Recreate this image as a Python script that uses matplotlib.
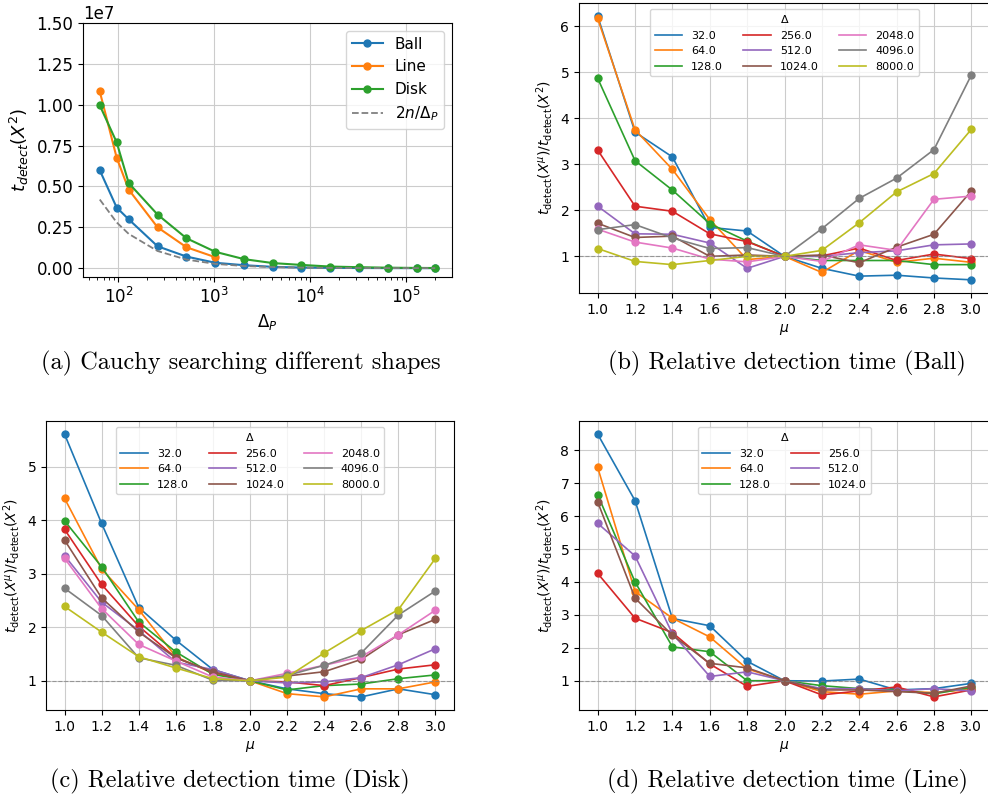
import numpy as np
import matplotlib
matplotlib.use('Agg')
import matplotlib.pyplot as plt

# panel (a): detection time vs Delta_P
delta_p = [64, 96, 128, 256, 512, 1024, 2048, 4096, 8000, 16000, 32000, 64000, 128000, 200000]
ball = [5.99e6, 3.71e6, 2.99e6, 1.34e6, 7.1e5, 3.3e5, 1.8e5, 8e4, 4e4, 2e4, 1e4, 5e3, 3e3, 2e3]
line_t = [1.081e7, 6.76e6, 4.81e6, 2.50e6, 1.28e6, 6.7e5]
disk = [9.96e6, 7.70e6, 5.21e6, 3.28e6, 1.83e6, 1.00e6, 5.5e5, 3.1e5, 2.0e5, 1.0e5, 6e4, 3e4, 1.5e4, 1e4]
two_n_over = [4.2e6, 2.8e6, 2.1e6, 1.05e6, 5.25e5, 2.62e5, 1.31e5, 6.6e4, 3.4e4, 1.7e4, 8.4e3, 4.2e3, 2.1e3, 1.3e3]

mu = [1.0, 1.2, 1.4, 1.6, 1.8, 2.0, 2.2, 2.4, 2.6, 2.8, 3.0]
deltas = ['32.0', '64.0', '128.0', '256.0', '512.0', '1024.0', '2048.0', '4096.0', '8000.0']

# panel (b): Ball
rel_ball = [
    [6.22, 3.70, 3.16, 1.63, 1.55, 1.0, 0.74, 0.57, 0.59, 0.53, 0.49],
    [6.17, 3.75, 2.89, 1.80, 0.93, 1.0, 0.65, 1.13, 0.87, 0.96, 0.87],
    [4.87, 3.08, 2.44, 1.71, 1.33, 1.0, 0.91, 0.91, 0.91, 0.82, 0.82],
    [3.31, 2.09, 1.98, 1.49, 1.32, 1.0, 1.01, 1.18, 0.91, 1.05, 0.95],
    [2.09, 1.49, 1.48, 1.29, 0.74, 1.0, 1.00, 1.08, 1.12, 1.25, 1.27],
    [1.72, 1.41, 1.44, 1.00, 1.03, 1.0, 1.03, 0.86, 1.20, 1.48, 2.42],
    [1.59, 1.31, 1.18, 0.94, 0.88, 1.0, 0.89, 1.25, 1.13, 2.24, 2.31],
    [1.58, 1.69, 1.40, 1.17, 1.19, 1.0, 1.60, 2.26, 2.70, 3.32, 4.94],
    [1.17, 0.89, 0.82, 0.91, 1.00, 1.0, 1.13, 1.73, 2.40, 2.80, 3.76],
]

# panel (c): Disk
rel_disk = [
    [5.61, 3.94, 2.37, 1.76, 1.21, 1.0, 0.85, 0.76, 0.70, 0.85, 0.74],
    [4.41, 3.09, 2.33, 1.45, 1.14, 1.0, 0.76, 0.70, 0.85, 0.85, 0.98],
    [3.99, 3.13, 2.10, 1.54, 1.12, 1.0, 0.83, 0.91, 0.94, 1.04, 1.11],
    [3.83, 2.80, 2.02, 1.43, 1.16, 1.0, 0.98, 0.91, 1.06, 1.22, 1.30],
    [3.34, 2.47, 1.94, 1.35, 1.21, 1.0, 0.96, 0.98, 1.06, 1.30, 1.60],
    [3.63, 2.55, 1.91, 1.43, 1.17, 1.0, 1.09, 1.17, 1.40, 1.86, 2.15],
    [3.29, 2.35, 1.68, 1.37, 1.07, 1.0, 1.14, 1.29, 1.45, 1.86, 2.32],
    [2.73, 2.22, 1.43, 1.29, 1.01, 1.0, 1.10, 1.29, 1.52, 2.23, 2.68],
    [2.39, 1.91, 1.45, 1.24, 1.04, 1.0, 1.07, 1.52, 1.94, 2.33, 3.29],
]

# panel (d): Line
rel_line = [
    [8.49, 6.47, 2.89, 2.67, 1.59, 1.0, 0.99, 1.05, 0.72, 0.76, 0.92],
    [7.48, 3.71, 2.90, 2.33, 1.36, 1.0, 0.67, 0.59, 0.69, 0.64, 0.74],
    [6.65, 4.00, 2.03, 1.88, 1.00, 1.0, 0.85, 0.76, 0.72, 0.60, 0.80],
    [4.26, 2.90, 2.46, 1.51, 0.83, 1.0, 0.57, 0.69, 0.81, 0.51, 0.72],
    [5.78, 4.79, 2.43, 1.13, 1.27, 1.0, 0.76, 0.76, 0.69, 0.76, 0.69],
    [6.43, 3.51, 2.38, 1.53, 1.39, 1.0, 0.72, 0.72, 0.67, 0.62, 0.84],
]

colors = plt.rcParams['axes.prop_cycle'].by_key()['color']

fig = plt.figure(figsize=(9.88, 7.94), dpi=100)

# (a)
ax = fig.add_axes([83 / 988, 1 - 277 / 794, 369 / 988, 254 / 794])
ax.plot(delta_p, ball, 'o-', ms=5, lw=1.5, label='Ball')
ax.plot(delta_p[:len(line_t)], line_t, 'o-', ms=5, lw=1.5, label='Line')
ax.plot(delta_p, disk, 'o-', ms=5, lw=1.5, label='Disk')
ax.plot(delta_p, two_n_over, '--', color='gray', lw=1.3, label=r'$2n/\Delta_P$')
ax.set_xscale('log')
ax.set_ylim(-0.054e7, 1.5e7)
ax.set_yticks(np.arange(0, 1.51e7, 0.25e7))
ax.grid(True, color='#cccccc')
ax.tick_params(labelsize=12)
ax.yaxis.get_offset_text().set_fontsize(12)
ax.set_xlabel(r'$\Delta_P$', fontsize=12)
ax.set_ylabel(r'$t_{detect}(X^2)$', fontsize=13)
ax.legend(fontsize=11, loc='upper right')


def rel_panel(rect, data, labels, ncol):
    ax = fig.add_axes(rect)
    for i, row in enumerate(data):
        ax.plot(mu, row, '-', color=colors[i], lw=1.2, label=labels[i])
        ax.plot(mu, row, 'o', color=colors[i], ms=5)
    ax.axhline(1.0, color='gray', ls='--', lw=0.8, alpha=0.7)
    ax.set_xticks(mu)
    ax.grid(True, color='#cccccc')
    ax.tick_params(labelsize=10)
    ax.set_xlabel(r'$\mu$', fontsize=10)
    ax.set_ylabel(r'$t_{\mathrm{detect}}(X^{\mu})/t_{\mathrm{detect}}(X^2)$', fontsize=10)
    ax.legend(title=r'$\Delta$', ncol=ncol, loc='upper center', fontsize=8,
              title_fontsize=8, handlelength=2.5, columnspacing=1.8)
    return ax


rel_panel([579 / 988, 1 - 293 / 794, 411 / 988, 290 / 794], rel_ball, deltas, 3)
rel_panel([46 / 988, 1 - 710 / 794, 408 / 988, 289 / 794], rel_disk, deltas, 3)
rel_panel([579 / 988, 1 - 710 / 794, 411 / 988, 289 / 794], rel_line, deltas[:6], 2)

cap = dict(fontsize=17.5, family='cmr10', ha='center', va='center')
fig.text(241 / 988, 1 - 363 / 794, '(a) Cauchy searching different shapes', **cap)
fig.text(787 / 988, 1 - 363 / 794, '(b) Relative detection time (Ball)', **cap)
fig.text(230 / 988, 1 - 781 / 794, '(c) Relative detection time (Disk)', **cap)
fig.text(787 / 988, 1 - 781 / 794, '(d) Relative detection time (Line)', **cap)

fig.savefig('out.png', dpi=100)
